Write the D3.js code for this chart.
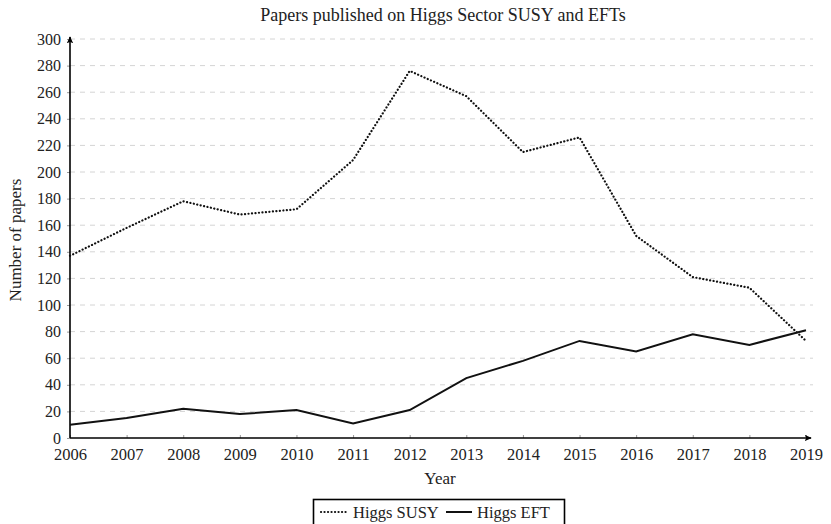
<!DOCTYPE html>
<html>
<head>
<meta charset="utf-8">
<script src="https://cdn.jsdelivr.net/npm/d3@7"></script>
<style>
  body { margin: 0; background: #fff; }
  text { font-family: "Liberation Serif", "DejaVu Serif", serif; fill: #222; }
</style>
</head>
<body>
<div id="chart"></div>
<script>
const years = [2006, 2007, 2008, 2009, 2010, 2011, 2012, 2013, 2014, 2015, 2016, 2017, 2018, 2019];
const susy = [137, 158, 178, 168, 172, 209, 276, 257, 215, 226, 152, 121, 113, 73];
const eft = [10, 15, 22, 18, 21, 11, 21, 45, 58, 73, 65, 78, 70, 81];
const yTicks = d3.range(0, 301, 20);

const W = 831, H = 524;
const margin = { top: 39, right: 25, bottom: 86, left: 70 },
    width = W - margin.left - margin.right,
    height = H - margin.top - margin.bottom;

const svgRoot = d3.select("#chart")
    .append("svg")
    .attr("width", W)
    .attr("height", H);

const defs = svgRoot.append("defs");
defs.append("marker")
    .attr("id", "arrow")
    .attr("viewBox", "0 0 10 10")
    .attr("refX", 8).attr("refY", 5)
    .attr("markerWidth", 5).attr("markerHeight", 5)
    .attr("orient", "auto")
    .append("path")
    .attr("d", "M0,1 L9,5 L0,9 L2,5 Z")
    .attr("fill", "#000");

const svg = svgRoot.append("g")
    .attr("transform", `translate(${margin.left},${margin.top})`);

const x = d3.scaleLinear()
    .domain([2006, 2019])
    .range([0, 736]);

const y = d3.scaleLinear()
    .domain([0, 300])
    .range([height, 0]);

// grid
svg.append("g")
    .selectAll("line")
    .data(yTicks.filter(d => d > 0))
    .enter()
    .append("line")
    .attr("x1", 0)
    .attr("x2", 743)
    .attr("y1", d => y(d))
    .attr("y2", d => y(d))
    .attr("stroke", "#d4d4d4")
    .attr("stroke-width", 1)
    .attr("stroke-dasharray", "5,5");

// axes
const xAxis = svg.append("g")
    .attr("transform", `translate(0, ${height})`)
    .call(d3.axisBottom(x).tickValues(years).tickFormat(d3.format("d")).tickSize(-3).tickPadding(10));
xAxis.select(".domain").remove();
xAxis.selectAll(".tick line").attr("stroke", "#999");
xAxis.selectAll("text").style("font-size", "16.5px").attr("fill", "#222");

const yAxis = svg.append("g")
    .call(d3.axisLeft(y).tickValues(yTicks).tickSize(3).tickPadding(6));
yAxis.select(".domain").remove();
yAxis.selectAll(".tick line").attr("stroke", "#999");
yAxis.selectAll("text").style("font-size", "16px").attr("fill", "#222");

svg.append("line")
    .attr("x1", 0).attr("y1", height)
    .attr("x2", 741).attr("y2", height)
    .attr("stroke", "#000").attr("stroke-width", 1.6)
    .attr("marker-end", "url(#arrow)");
svg.append("line")
    .attr("x1", 0).attr("y1", height)
    .attr("x2", 0).attr("y2", -2)
    .attr("stroke", "#000").attr("stroke-width", 1.6)
    .attr("marker-end", "url(#arrow)");

// lines
const line = d3.line()
    .x((d, i) => x(years[i]))
    .y(d => y(d));

svg.append("path")
    .datum(susy)
    .attr("fill", "none")
    .attr("stroke", "#111")
    .attr("stroke-width", 2.2)
    .attr("stroke-linecap", "round")
    .attr("stroke-dasharray", "0.1,3.4")
    .attr("d", line);

svg.append("path")
    .datum(eft)
    .attr("fill", "none")
    .attr("stroke", "#111")
    .attr("stroke-width", 2)
    .attr("d", line);

// titles
svgRoot.append("text")
    .attr("x", 443)
    .attr("y", 21)
    .attr("text-anchor", "middle")
    .style("font-size", "18px")
    .text("Papers published on Higgs Sector SUSY and EFTs");

svgRoot.append("text")
    .attr("x", 440)
    .attr("y", 484)
    .attr("text-anchor", "middle")
    .style("font-size", "17px")
    .text("Year");

svgRoot.append("text")
    .attr("transform", "rotate(-90)")
    .attr("x", -240)
    .attr("y", 21)
    .attr("text-anchor", "middle")
    .style("font-size", "17px")
    .text("Number of papers");

// legend
const legend = svgRoot.append("g");
legend.append("rect")
    .attr("x", 313.5).attr("y", 499.5)
    .attr("width", 251).attr("height", 30)
    .attr("fill", "#fff")
    .attr("stroke", "#000")
    .attr("stroke-width", 1.6);
legend.append("line")
    .attr("x1", 321).attr("x2", 349)
    .attr("y1", 512).attr("y2", 512)
    .attr("stroke", "#111").attr("stroke-width", 2.2)
    .attr("stroke-linecap", "round")
    .attr("stroke-dasharray", "0.1,3.4");
legend.append("text")
    .attr("x", 353).attr("y", 518)
    .style("font-size", "16.5px")
    .text("Higgs SUSY");
legend.append("line")
    .attr("x1", 446).attr("x2", 472)
    .attr("y1", 512).attr("y2", 512)
    .attr("stroke", "#111").attr("stroke-width", 2);
legend.append("text")
    .attr("x", 477).attr("y", 518)
    .style("font-size", "16.5px")
    .text("Higgs EFT");
</script>
</body>
</html>
